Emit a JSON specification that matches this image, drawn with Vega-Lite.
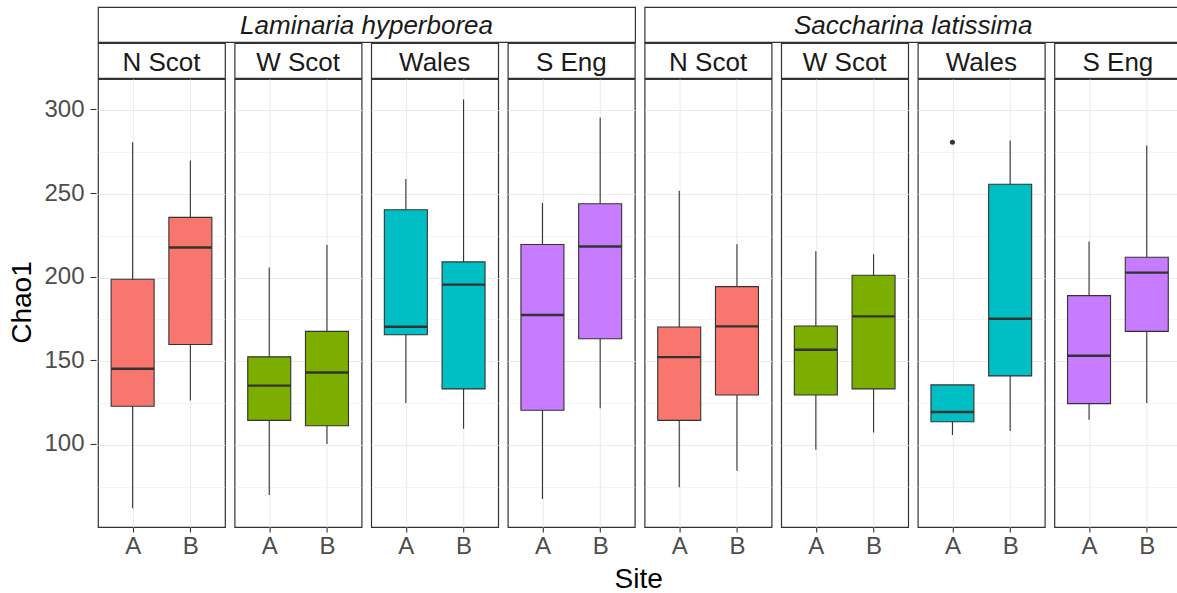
{
"$schema": "https://vega.github.io/schema/vega-lite/v6.json",
"padding": {"left": 8, "top": 6, "right": 0, "bottom": 0},
"background": "white",
"datasets": {
"boxes": [
{"species":"Laminaria hyperborea","region":"N Scot","site":"A","lower":62,"q1":123,"median":145.5,"q3":199,"upper":281},
{"species":"Laminaria hyperborea","region":"N Scot","site":"B","lower":126.5,"q1":160,"median":218,"q3":236,"upper":270},
{"species":"Laminaria hyperborea","region":"W Scot","site":"A","lower":70,"q1":114.6,"median":135.4,"q3":152.6,"upper":206},
{"species":"Laminaria hyperborea","region":"W Scot","site":"B","lower":100.4,"q1":111.4,"median":143.2,"q3":167.8,"upper":219.6},
{"species":"Laminaria hyperborea","region":"Wales","site":"A","lower":125,"q1":165.8,"median":170.6,"q3":240.6,"upper":259},
{"species":"Laminaria hyperborea","region":"Wales","site":"B","lower":109.6,"q1":133.4,"median":195.8,"q3":209.4,"upper":306.6},
{"species":"Laminaria hyperborea","region":"S Eng","site":"A","lower":67.6,"q1":120.6,"median":177.6,"q3":219.8,"upper":244.6},
{"species":"Laminaria hyperborea","region":"S Eng","site":"B","lower":121.8,"q1":163.4,"median":218.6,"q3":244.2,"upper":295.8},
{"species":"Saccharina latissima","region":"N Scot","site":"A","lower":74.6,"q1":114.6,"median":152.4,"q3":170.4,"upper":252},
{"species":"Saccharina latissima","region":"N Scot","site":"B","lower":84.4,"q1":129.8,"median":170.8,"q3":194.6,"upper":220},
{"species":"Saccharina latissima","region":"W Scot","site":"A","lower":97,"q1":129.8,"median":156.8,"q3":171,"upper":215.8},
{"species":"Saccharina latissima","region":"W Scot","site":"B","lower":107.4,"q1":133.4,"median":176.8,"q3":201.4,"upper":214},
{"species":"Saccharina latissima","region":"Wales","site":"A","lower":105.8,"q1":113.8,"median":119.6,"q3":135.8,"upper":135.8},
{"species":"Saccharina latissima","region":"Wales","site":"B","lower":108.2,"q1":141.2,"median":175.4,"q3":255.8,"upper":282},
{"species":"Saccharina latissima","region":"S Eng","site":"A","lower":115,"q1":124.6,"median":153.2,"q3":189.2,"upper":221.6},
{"species":"Saccharina latissima","region":"S Eng","site":"B","lower":125,"q1":167.8,"median":203,"q3":212.2,"upper":279}
],
"outliers": [
{"species":"Saccharina latissima","region":"Wales","site":"A","value":281}
]
},
"data": {"name": "boxes"},
"title": {"text": "Site", "orient": "bottom", "anchor": "middle", "fontSize": 28, "font": "Liberation Sans", "fontWeight": "normal", "color": "#000000", "dx": 43, "offset": 7},
"config": {
"font": "Liberation Sans",
"view": {"stroke": "#333333", "strokeWidth": 1.2},
"axis": {"labelFont": "Liberation Sans", "labelFontSize": 24, "labelColor": "#4D4D4D", "tickColor": "#333333", "tickWidth": 1.1, "titleFont": "Liberation Sans", "titleFontSize": 28, "titleFontWeight": "normal", "titleColor": "#000000", "domain": false, "gridColor": "#EBEBEB"}
},
"spacing": 0,
"hconcat": [
{"width": 1, "height": 519, "view": {"stroke": null}, "mark": {"type": "rule", "opacity": 0},
 "encoding": {"y": {"field": "upper", "type": "quantitative", "scale": {"domain": [50.8, 318.8], "nice": false, "zero": false, "range": [519, 71]}, "axis": {"title": "Chao1", "values": [100, 150, 200, 250, 300], "grid": false, "tickSize": 6, "labelPadding": 6, "titlePadding": 7}}}},
{"spacing": 7.6, "hconcat": [
{"spacing": -2.4, "vconcat": [
 {"width": 537.1, "height": 35, "view": {"stroke": "#333333", "strokeWidth": 1.2, "fill": "white"}, "transform": [{"filter": "datum.species === 'Laminaria hyperborea' && datum.region === 'N Scot' && datum.site === 'A'"}], "mark": {"type": "text", "fontSize": 26, "fontStyle": "italic", "color": "#1A1A1A", "baseline": "middle", "dy": 1}, "encoding": {"text": {"field": "species"}}},
 {"spacing": 7.6, "hconcat": [
  {"spacing": -2.4, "vconcat": [
   {"width": 127, "height": 35, "view": {"stroke": "#333333", "strokeWidth": 1.2, "fill": "white"}, "transform": [{"filter": "datum.species === 'Laminaria hyperborea' && datum.region === 'N Scot' && datum.site === 'A'"}], "mark": {"type": "text", "fontSize": 26, "color": "#1A1A1A", "baseline": "middle", "dy": 2}, "encoding": {"text": {"field": "region"}}},
   {"width": 127, "height": 448, "transform": [{"filter": "datum.species === 'Laminaria hyperborea' && datum.region === 'N Scot'"}],
    "encoding": {"x": {"field": "site", "type": "nominal", "scale": {"type": "point", "padding": 0.6, "domain": ["A", "B"]}, "axis": {"title": null, "labelAngle": 0, "grid": true, "gridWidth": 1.1, "tickSize": 5, "labelPadding": 2}}},
    "layer": [
     {"mark": {"type": "rule", "color": "#333333", "strokeWidth": 1.1}, "encoding": {"y": {"field": "lower", "type": "quantitative", "scale": {"domain": [50.8, 318.8], "nice": false, "zero": false}, "axis": {"title": null, "labels": false, "ticks": false, "grid": true, "values": [75,100,125,150,175,200,225,250,275,300], "gridWidth": {"condition": {"test": "datum.value % 50 === 0", "value": 1.1}, "value": 0.55}}}, "y2": {"field": "upper"}}},
     {"mark": {"type": "bar", "size": 43, "stroke": "#333333", "strokeWidth": 1.1, "opacity": 1}, "encoding": {"y": {"field": "q1", "type": "quantitative", "axis": {"title": null, "labels": false, "ticks": false, "grid": true, "values": [75,100,125,150,175,200,225,250,275,300], "gridWidth": {"condition": {"test": "datum.value % 50 === 0", "value": 1.1}, "value": 0.55}}}, "y2": {"field": "q3"}, "fill": {"field": "region", "type": "nominal", "scale": {"domain": ["N Scot", "W Scot", "Wales", "S Eng"], "range": ["#F8766D", "#7CAE00", "#00BFC4", "#C77CFF"]}, "legend": null}}},
     {"mark": {"type": "tick", "size": 43, "thickness": 2.4, "color": "#333333", "opacity": 1}, "encoding": {"y": {"field": "median", "type": "quantitative", "axis": {"title": null, "labels": false, "ticks": false, "grid": true, "values": [75,100,125,150,175,200,225,250,275,300], "gridWidth": {"condition": {"test": "datum.value % 50 === 0", "value": 1.1}, "value": 0.55}}}}}
    ]}
  ]},
  {"spacing": -2.4, "vconcat": [
   {"width": 127, "height": 35, "view": {"stroke": "#333333", "strokeWidth": 1.2, "fill": "white"}, "transform": [{"filter": "datum.species === 'Laminaria hyperborea' && datum.region === 'W Scot' && datum.site === 'A'"}], "mark": {"type": "text", "fontSize": 26, "color": "#1A1A1A", "baseline": "middle", "dy": 2}, "encoding": {"text": {"field": "region"}}},
   {"width": 127, "height": 448, "transform": [{"filter": "datum.species === 'Laminaria hyperborea' && datum.region === 'W Scot'"}],
    "encoding": {"x": {"field": "site", "type": "nominal", "scale": {"type": "point", "padding": 0.6, "domain": ["A", "B"]}, "axis": {"title": null, "labelAngle": 0, "grid": true, "gridWidth": 1.1, "tickSize": 5, "labelPadding": 2}}},
    "layer": [
     {"mark": {"type": "rule", "color": "#333333", "strokeWidth": 1.1}, "encoding": {"y": {"field": "lower", "type": "quantitative", "scale": {"domain": [50.8, 318.8], "nice": false, "zero": false}, "axis": {"title": null, "labels": false, "ticks": false, "grid": true, "values": [75,100,125,150,175,200,225,250,275,300], "gridWidth": {"condition": {"test": "datum.value % 50 === 0", "value": 1.1}, "value": 0.55}}}, "y2": {"field": "upper"}}},
     {"mark": {"type": "bar", "size": 43, "stroke": "#333333", "strokeWidth": 1.1, "opacity": 1}, "encoding": {"y": {"field": "q1", "type": "quantitative", "axis": {"title": null, "labels": false, "ticks": false, "grid": true, "values": [75,100,125,150,175,200,225,250,275,300], "gridWidth": {"condition": {"test": "datum.value % 50 === 0", "value": 1.1}, "value": 0.55}}}, "y2": {"field": "q3"}, "fill": {"field": "region", "type": "nominal", "scale": {"domain": ["N Scot", "W Scot", "Wales", "S Eng"], "range": ["#F8766D", "#7CAE00", "#00BFC4", "#C77CFF"]}, "legend": null}}},
     {"mark": {"type": "tick", "size": 43, "thickness": 2.4, "color": "#333333", "opacity": 1}, "encoding": {"y": {"field": "median", "type": "quantitative", "axis": {"title": null, "labels": false, "ticks": false, "grid": true, "values": [75,100,125,150,175,200,225,250,275,300], "gridWidth": {"condition": {"test": "datum.value % 50 === 0", "value": 1.1}, "value": 0.55}}}}}
    ]}
  ]},
  {"spacing": -2.4, "vconcat": [
   {"width": 127, "height": 35, "view": {"stroke": "#333333", "strokeWidth": 1.2, "fill": "white"}, "transform": [{"filter": "datum.species === 'Laminaria hyperborea' && datum.region === 'Wales' && datum.site === 'A'"}], "mark": {"type": "text", "fontSize": 26, "color": "#1A1A1A", "baseline": "middle", "dy": 2}, "encoding": {"text": {"field": "region"}}},
   {"width": 127, "height": 448, "transform": [{"filter": "datum.species === 'Laminaria hyperborea' && datum.region === 'Wales'"}],
    "encoding": {"x": {"field": "site", "type": "nominal", "scale": {"type": "point", "padding": 0.6, "domain": ["A", "B"]}, "axis": {"title": null, "labelAngle": 0, "grid": true, "gridWidth": 1.1, "tickSize": 5, "labelPadding": 2}}},
    "layer": [
     {"mark": {"type": "rule", "color": "#333333", "strokeWidth": 1.1}, "encoding": {"y": {"field": "lower", "type": "quantitative", "scale": {"domain": [50.8, 318.8], "nice": false, "zero": false}, "axis": {"title": null, "labels": false, "ticks": false, "grid": true, "values": [75,100,125,150,175,200,225,250,275,300], "gridWidth": {"condition": {"test": "datum.value % 50 === 0", "value": 1.1}, "value": 0.55}}}, "y2": {"field": "upper"}}},
     {"mark": {"type": "bar", "size": 43, "stroke": "#333333", "strokeWidth": 1.1, "opacity": 1}, "encoding": {"y": {"field": "q1", "type": "quantitative", "axis": {"title": null, "labels": false, "ticks": false, "grid": true, "values": [75,100,125,150,175,200,225,250,275,300], "gridWidth": {"condition": {"test": "datum.value % 50 === 0", "value": 1.1}, "value": 0.55}}}, "y2": {"field": "q3"}, "fill": {"field": "region", "type": "nominal", "scale": {"domain": ["N Scot", "W Scot", "Wales", "S Eng"], "range": ["#F8766D", "#7CAE00", "#00BFC4", "#C77CFF"]}, "legend": null}}},
     {"mark": {"type": "tick", "size": 43, "thickness": 2.4, "color": "#333333", "opacity": 1}, "encoding": {"y": {"field": "median", "type": "quantitative", "axis": {"title": null, "labels": false, "ticks": false, "grid": true, "values": [75,100,125,150,175,200,225,250,275,300], "gridWidth": {"condition": {"test": "datum.value % 50 === 0", "value": 1.1}, "value": 0.55}}}}}
    ]}
  ]},
  {"spacing": -2.4, "vconcat": [
   {"width": 127, "height": 35, "view": {"stroke": "#333333", "strokeWidth": 1.2, "fill": "white"}, "transform": [{"filter": "datum.species === 'Laminaria hyperborea' && datum.region === 'S Eng' && datum.site === 'A'"}], "mark": {"type": "text", "fontSize": 26, "color": "#1A1A1A", "baseline": "middle", "dy": 2}, "encoding": {"text": {"field": "region"}}},
   {"width": 127, "height": 448, "transform": [{"filter": "datum.species === 'Laminaria hyperborea' && datum.region === 'S Eng'"}],
    "encoding": {"x": {"field": "site", "type": "nominal", "scale": {"type": "point", "padding": 0.6, "domain": ["A", "B"]}, "axis": {"title": null, "labelAngle": 0, "grid": true, "gridWidth": 1.1, "tickSize": 5, "labelPadding": 2}}},
    "layer": [
     {"mark": {"type": "rule", "color": "#333333", "strokeWidth": 1.1}, "encoding": {"y": {"field": "lower", "type": "quantitative", "scale": {"domain": [50.8, 318.8], "nice": false, "zero": false}, "axis": {"title": null, "labels": false, "ticks": false, "grid": true, "values": [75,100,125,150,175,200,225,250,275,300], "gridWidth": {"condition": {"test": "datum.value % 50 === 0", "value": 1.1}, "value": 0.55}}}, "y2": {"field": "upper"}}},
     {"mark": {"type": "bar", "size": 43, "stroke": "#333333", "strokeWidth": 1.1, "opacity": 1}, "encoding": {"y": {"field": "q1", "type": "quantitative", "axis": {"title": null, "labels": false, "ticks": false, "grid": true, "values": [75,100,125,150,175,200,225,250,275,300], "gridWidth": {"condition": {"test": "datum.value % 50 === 0", "value": 1.1}, "value": 0.55}}}, "y2": {"field": "q3"}, "fill": {"field": "region", "type": "nominal", "scale": {"domain": ["N Scot", "W Scot", "Wales", "S Eng"], "range": ["#F8766D", "#7CAE00", "#00BFC4", "#C77CFF"]}, "legend": null}}},
     {"mark": {"type": "tick", "size": 43, "thickness": 2.4, "color": "#333333", "opacity": 1}, "encoding": {"y": {"field": "median", "type": "quantitative", "axis": {"title": null, "labels": false, "ticks": false, "grid": true, "values": [75,100,125,150,175,200,225,250,275,300], "gridWidth": {"condition": {"test": "datum.value % 50 === 0", "value": 1.1}, "value": 0.55}}}}}
    ]}
  ]}
 ]}
]},
{"spacing": -2.4, "vconcat": [
 {"width": 537.1, "height": 35, "view": {"stroke": "#333333", "strokeWidth": 1.2, "fill": "white"}, "transform": [{"filter": "datum.species === 'Saccharina latissima' && datum.region === 'N Scot' && datum.site === 'A'"}], "mark": {"type": "text", "fontSize": 26, "fontStyle": "italic", "color": "#1A1A1A", "baseline": "middle", "dy": 1}, "encoding": {"text": {"field": "species"}}},
 {"spacing": 7.6, "hconcat": [
  {"spacing": -2.4, "vconcat": [
   {"width": 127, "height": 35, "view": {"stroke": "#333333", "strokeWidth": 1.2, "fill": "white"}, "transform": [{"filter": "datum.species === 'Saccharina latissima' && datum.region === 'N Scot' && datum.site === 'A'"}], "mark": {"type": "text", "fontSize": 26, "color": "#1A1A1A", "baseline": "middle", "dy": 2}, "encoding": {"text": {"field": "region"}}},
   {"width": 127, "height": 448, "transform": [{"filter": "datum.species === 'Saccharina latissima' && datum.region === 'N Scot'"}],
    "encoding": {"x": {"field": "site", "type": "nominal", "scale": {"type": "point", "padding": 0.6, "domain": ["A", "B"]}, "axis": {"title": null, "labelAngle": 0, "grid": true, "gridWidth": 1.1, "tickSize": 5, "labelPadding": 2}}},
    "layer": [
     {"mark": {"type": "rule", "color": "#333333", "strokeWidth": 1.1}, "encoding": {"y": {"field": "lower", "type": "quantitative", "scale": {"domain": [50.8, 318.8], "nice": false, "zero": false}, "axis": {"title": null, "labels": false, "ticks": false, "grid": true, "values": [75,100,125,150,175,200,225,250,275,300], "gridWidth": {"condition": {"test": "datum.value % 50 === 0", "value": 1.1}, "value": 0.55}}}, "y2": {"field": "upper"}}},
     {"mark": {"type": "bar", "size": 43, "stroke": "#333333", "strokeWidth": 1.1, "opacity": 1}, "encoding": {"y": {"field": "q1", "type": "quantitative", "axis": {"title": null, "labels": false, "ticks": false, "grid": true, "values": [75,100,125,150,175,200,225,250,275,300], "gridWidth": {"condition": {"test": "datum.value % 50 === 0", "value": 1.1}, "value": 0.55}}}, "y2": {"field": "q3"}, "fill": {"field": "region", "type": "nominal", "scale": {"domain": ["N Scot", "W Scot", "Wales", "S Eng"], "range": ["#F8766D", "#7CAE00", "#00BFC4", "#C77CFF"]}, "legend": null}}},
     {"mark": {"type": "tick", "size": 43, "thickness": 2.4, "color": "#333333", "opacity": 1}, "encoding": {"y": {"field": "median", "type": "quantitative", "axis": {"title": null, "labels": false, "ticks": false, "grid": true, "values": [75,100,125,150,175,200,225,250,275,300], "gridWidth": {"condition": {"test": "datum.value % 50 === 0", "value": 1.1}, "value": 0.55}}}}}
    ]}
  ]},
  {"spacing": -2.4, "vconcat": [
   {"width": 127, "height": 35, "view": {"stroke": "#333333", "strokeWidth": 1.2, "fill": "white"}, "transform": [{"filter": "datum.species === 'Saccharina latissima' && datum.region === 'W Scot' && datum.site === 'A'"}], "mark": {"type": "text", "fontSize": 26, "color": "#1A1A1A", "baseline": "middle", "dy": 2}, "encoding": {"text": {"field": "region"}}},
   {"width": 127, "height": 448, "transform": [{"filter": "datum.species === 'Saccharina latissima' && datum.region === 'W Scot'"}],
    "encoding": {"x": {"field": "site", "type": "nominal", "scale": {"type": "point", "padding": 0.6, "domain": ["A", "B"]}, "axis": {"title": null, "labelAngle": 0, "grid": true, "gridWidth": 1.1, "tickSize": 5, "labelPadding": 2}}},
    "layer": [
     {"mark": {"type": "rule", "color": "#333333", "strokeWidth": 1.1}, "encoding": {"y": {"field": "lower", "type": "quantitative", "scale": {"domain": [50.8, 318.8], "nice": false, "zero": false}, "axis": {"title": null, "labels": false, "ticks": false, "grid": true, "values": [75,100,125,150,175,200,225,250,275,300], "gridWidth": {"condition": {"test": "datum.value % 50 === 0", "value": 1.1}, "value": 0.55}}}, "y2": {"field": "upper"}}},
     {"mark": {"type": "bar", "size": 43, "stroke": "#333333", "strokeWidth": 1.1, "opacity": 1}, "encoding": {"y": {"field": "q1", "type": "quantitative", "axis": {"title": null, "labels": false, "ticks": false, "grid": true, "values": [75,100,125,150,175,200,225,250,275,300], "gridWidth": {"condition": {"test": "datum.value % 50 === 0", "value": 1.1}, "value": 0.55}}}, "y2": {"field": "q3"}, "fill": {"field": "region", "type": "nominal", "scale": {"domain": ["N Scot", "W Scot", "Wales", "S Eng"], "range": ["#F8766D", "#7CAE00", "#00BFC4", "#C77CFF"]}, "legend": null}}},
     {"mark": {"type": "tick", "size": 43, "thickness": 2.4, "color": "#333333", "opacity": 1}, "encoding": {"y": {"field": "median", "type": "quantitative", "axis": {"title": null, "labels": false, "ticks": false, "grid": true, "values": [75,100,125,150,175,200,225,250,275,300], "gridWidth": {"condition": {"test": "datum.value % 50 === 0", "value": 1.1}, "value": 0.55}}}}}
    ]}
  ]},
  {"spacing": -2.4, "vconcat": [
   {"width": 127, "height": 35, "view": {"stroke": "#333333", "strokeWidth": 1.2, "fill": "white"}, "transform": [{"filter": "datum.species === 'Saccharina latissima' && datum.region === 'Wales' && datum.site === 'A'"}], "mark": {"type": "text", "fontSize": 26, "color": "#1A1A1A", "baseline": "middle", "dy": 2}, "encoding": {"text": {"field": "region"}}},
   {"width": 127, "height": 448, "transform": [{"filter": "datum.species === 'Saccharina latissima' && datum.region === 'Wales'"}],
    "encoding": {"x": {"field": "site", "type": "nominal", "scale": {"type": "point", "padding": 0.6, "domain": ["A", "B"]}, "axis": {"title": null, "labelAngle": 0, "grid": true, "gridWidth": 1.1, "tickSize": 5, "labelPadding": 2}}},
    "layer": [
     {"mark": {"type": "rule", "color": "#333333", "strokeWidth": 1.1}, "encoding": {"y": {"field": "lower", "type": "quantitative", "scale": {"domain": [50.8, 318.8], "nice": false, "zero": false}, "axis": {"title": null, "labels": false, "ticks": false, "grid": true, "values": [75,100,125,150,175,200,225,250,275,300], "gridWidth": {"condition": {"test": "datum.value % 50 === 0", "value": 1.1}, "value": 0.55}}}, "y2": {"field": "upper"}}},
     {"mark": {"type": "bar", "size": 43, "stroke": "#333333", "strokeWidth": 1.1, "opacity": 1}, "encoding": {"y": {"field": "q1", "type": "quantitative", "axis": {"title": null, "labels": false, "ticks": false, "grid": true, "values": [75,100,125,150,175,200,225,250,275,300], "gridWidth": {"condition": {"test": "datum.value % 50 === 0", "value": 1.1}, "value": 0.55}}}, "y2": {"field": "q3"}, "fill": {"field": "region", "type": "nominal", "scale": {"domain": ["N Scot", "W Scot", "Wales", "S Eng"], "range": ["#F8766D", "#7CAE00", "#00BFC4", "#C77CFF"]}, "legend": null}}},
     {"mark": {"type": "tick", "size": 43, "thickness": 2.4, "color": "#333333", "opacity": 1}, "encoding": {"y": {"field": "median", "type": "quantitative", "axis": {"title": null, "labels": false, "ticks": false, "grid": true, "values": [75,100,125,150,175,200,225,250,275,300], "gridWidth": {"condition": {"test": "datum.value % 50 === 0", "value": 1.1}, "value": 0.55}}}}},
     {"data": {"name": "outliers"}, "mark": {"type": "point", "filled": true, "size": 25, "color": "#333333", "opacity": 1}, "encoding": {"y": {"field": "value", "type": "quantitative", "axis": {"title": null, "labels": false, "ticks": false, "grid": true, "values": [75,100,125,150,175,200,225,250,275,300], "gridWidth": {"condition": {"test": "datum.value % 50 === 0", "value": 1.1}, "value": 0.55}}}}}
    ]}
  ]},
  {"spacing": -2.4, "vconcat": [
   {"width": 127, "height": 35, "view": {"stroke": "#333333", "strokeWidth": 1.2, "fill": "white"}, "transform": [{"filter": "datum.species === 'Saccharina latissima' && datum.region === 'S Eng' && datum.site === 'A'"}], "mark": {"type": "text", "fontSize": 26, "color": "#1A1A1A", "baseline": "middle", "dy": 2}, "encoding": {"text": {"field": "region"}}},
   {"width": 127, "height": 448, "transform": [{"filter": "datum.species === 'Saccharina latissima' && datum.region === 'S Eng'"}],
    "encoding": {"x": {"field": "site", "type": "nominal", "scale": {"type": "point", "padding": 0.6, "domain": ["A", "B"]}, "axis": {"title": null, "labelAngle": 0, "grid": true, "gridWidth": 1.1, "tickSize": 5, "labelPadding": 2}}},
    "layer": [
     {"mark": {"type": "rule", "color": "#333333", "strokeWidth": 1.1}, "encoding": {"y": {"field": "lower", "type": "quantitative", "scale": {"domain": [50.8, 318.8], "nice": false, "zero": false}, "axis": {"title": null, "labels": false, "ticks": false, "grid": true, "values": [75,100,125,150,175,200,225,250,275,300], "gridWidth": {"condition": {"test": "datum.value % 50 === 0", "value": 1.1}, "value": 0.55}}}, "y2": {"field": "upper"}}},
     {"mark": {"type": "bar", "size": 43, "stroke": "#333333", "strokeWidth": 1.1, "opacity": 1}, "encoding": {"y": {"field": "q1", "type": "quantitative", "axis": {"title": null, "labels": false, "ticks": false, "grid": true, "values": [75,100,125,150,175,200,225,250,275,300], "gridWidth": {"condition": {"test": "datum.value % 50 === 0", "value": 1.1}, "value": 0.55}}}, "y2": {"field": "q3"}, "fill": {"field": "region", "type": "nominal", "scale": {"domain": ["N Scot", "W Scot", "Wales", "S Eng"], "range": ["#F8766D", "#7CAE00", "#00BFC4", "#C77CFF"]}, "legend": null}}},
     {"mark": {"type": "tick", "size": 43, "thickness": 2.4, "color": "#333333", "opacity": 1}, "encoding": {"y": {"field": "median", "type": "quantitative", "axis": {"title": null, "labels": false, "ticks": false, "grid": true, "values": [75,100,125,150,175,200,225,250,275,300], "gridWidth": {"condition": {"test": "datum.value % 50 === 0", "value": 1.1}, "value": 0.55}}}}}
    ]}
  ]}
 ]}
]}
]}
]
}
